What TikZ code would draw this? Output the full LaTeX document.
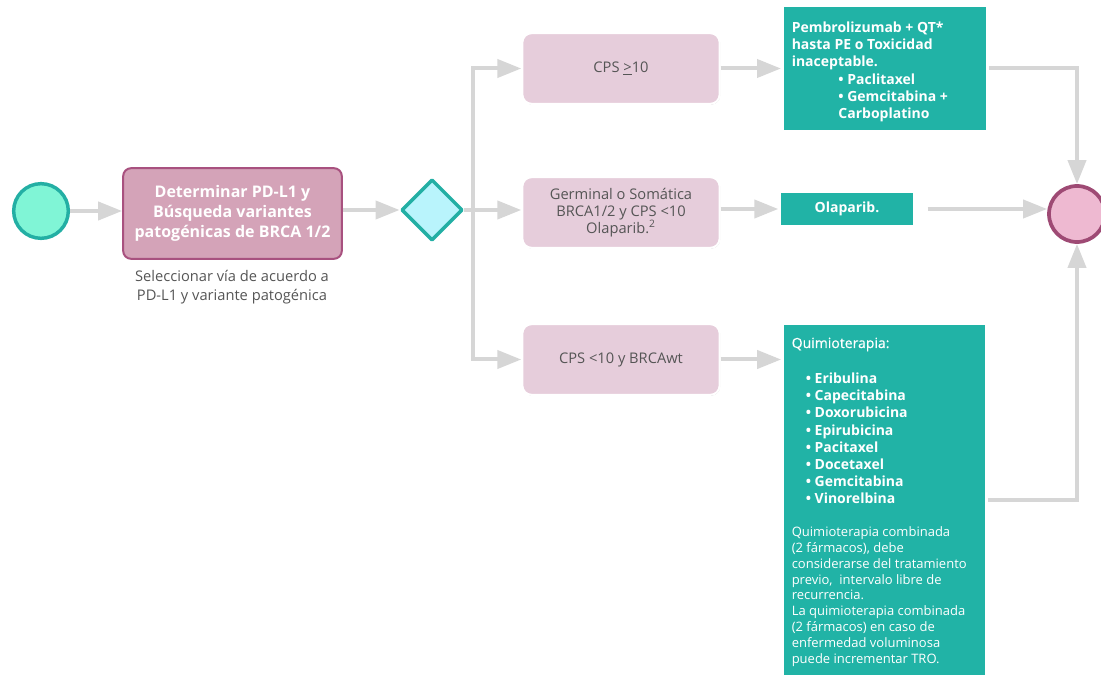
\documentclass[tikz,border=0pt]{standalone}
\usepackage{fontspec}
\setmainfont{Open Sans}
\newfontface\titleface[FakeBold=0.5]{Open Sans}
\usetikzlibrary{arrows.meta,shapes.geometric,shadows}

\definecolor{tealfill}{HTML}{21B3A6}
\definecolor{tealline}{HTML}{23AFA4}
\definecolor{mintfill}{HTML}{80F5D6}
\definecolor{cyanfill}{HTML}{B9F4FC}
\definecolor{mauvefill}{HTML}{D4A3B8}
\definecolor{mauveline}{HTML}{A8517F}
\definecolor{pinkfill}{HTML}{E6CDDB}
\definecolor{endfill}{HTML}{EEB9D1}
\definecolor{endline}{HTML}{9E4A74}
\definecolor{flowgray}{HTML}{D6D6D6}
\definecolor{textgray}{HTML}{555555}

\begin{document}
\begin{tikzpicture}[x=0.75pt,y=-0.75pt,
  flow/.style={draw=flowgray, line width=3pt},
  conn/.style={flow, -{Triangle[length=18pt,width=13.5pt]}},
  softshadow/.style={drop shadow={shadow xshift=0.4pt, shadow yshift=-0.6pt, fill=black, opacity=0.22}},
  taskbox/.style={rectangle, rounded corners=6pt, fill=mauvefill, draw=mauveline, line width=1.5pt,
    minimum width=164pt, minimum height=68pt, text=white, align=center,
    font=\fontsize{12}{15}\selectfont\bfseries},
  condbox/.style={rectangle, rounded corners=7pt, fill=pinkfill, draw=white, line width=1.5pt,
    minimum width=148pt, minimum height=53pt, text=textgray, align=center, softshadow,
    font=\fontsize{11}{12.6}\selectfont},
  treatbox/.style={rectangle, fill=tealfill, draw=white, line width=2pt, softshadow, inner sep=0pt},
  treattext/.style={text=white, align=left, inner sep=0pt, anchor=north west},
]
\useasboundingbox (0,0) rectangle (1101,681);

% start, first task and gateway
\node[circle, minimum size=41pt, inner sep=0pt, fill=mintfill, draw=tealline, line width=2.6pt] (start) at (41,211) {};
\node[taskbox] (det) at (232.5,213.5) {Determinar PD-L1 y\\Búsqueda variantes\\patogénicas de BRCA 1/2};
\node[text=textgray, align=center, inner sep=0pt, font=\fontsize{11}{14.25}\selectfont] (sel) at (232,287)
  {Seleccionar vía de acuerdo a\\PD-L1 y variante patogénica};
\node[diamond, aspect=1, minimum size=46pt, inner sep=0pt, fill=cyanfill, draw=tealline, line width=2.6pt, line join=round] (gw) at (432,210) {};

% conditions
\node[condbox] (c1) at (621,68.5) {CPS \underline{>}10};
\node[condbox] (c2) at (621,212.5) {Germinal o Somática\\BRCA1/2 y CPS <10\\Olaparib.\textsuperscript{2}};
\node[condbox] (c3) at (621,359.5) {CPS <10 y BRCAwt};

% treatments
\node[treatbox, minimum width=154pt, minimum height=94pt] (t1) at (885,68.5) {};
\node[treattext, font=\fontsize{10.5}{12.9}\selectfont\bfseries] (t1txt) at (791.5,21.5)
  {Pembrolizumab + QT*\\hasta PE o Toxicidad\\inaceptable.\\
   \hspace*{35pt}• Paclitaxel\\\hspace*{35pt}• Gemcitabina +\\\hspace*{35pt}Carboplatino};

\node[treatbox, minimum width=101pt, minimum height=26.5pt, text=white, font=\fontsize{10.5}{12.5}\selectfont\bfseries] (ola) at (847,209) {Olaparib.};

\node[treatbox, minimum width=153pt, minimum height=265pt] (q) at (884.5,500) {};
\node[text=white, inner sep=0pt, anchor=base west, font=\fontsize{10.5}{12.9}\titleface] (qtitle) at (791.5,348) {Quimioterapia:};
\node[treattext, font=\fontsize{10.5}{12.9}\selectfont\bfseries] (qlist) at (805.5,372.5)
  {• Eribulina\\• Capecitabina\\• Doxorubicina\\• Epirubicina\\• Pacitaxel\\• Docetaxel\\• Gemcitabina\\• Vinorelbina};
\node[treattext, font=\fontsize{9.75}{11.85}\selectfont] (qnote) at (791.5,526.5)
  {Quimioterapia combinada\\(2 fármacos), debe\\considerarse del tratamiento\\previo,\ \ intervalo libre de\\recurrencia.\\
   La quimioterapia combinada\\(2 fármacos) en caso de\\enfermedad voluminosa\\puede incrementar TRO.};

% end event
\node[circle, minimum size=42pt, inner sep=0pt, fill=endfill, draw=endline, line width=2.8pt] (end) at (1077,214) {};

% connectors
\coordinate (split) at (473,210);
\draw[conn] (start.east) -- (start.east -| det.west);
\draw[conn] (gw.west -| det.east) -- (gw.west);
\draw[flow] (gw.east) -- (split);
\draw[conn] (split) |- (c1.west);
\draw[conn] (split) -- (split -| c2.west);
\draw[conn] (split) |- (c3.west);
\draw[conn] (c1.east) -- (c1.east -| t1.west);
\draw[conn] (c2.east |- ola.west) -- (ola.west);
\draw[conn] (c3.east) -- (c3.east -| q.west);
\draw[conn] (t1.east) -| (end.north);
\draw[conn, shorten <=9pt] (ola.east) -- (ola.east -| end.west);
\draw[conn] (q.east) -| (end.south);
\end{tikzpicture}
\end{document}
